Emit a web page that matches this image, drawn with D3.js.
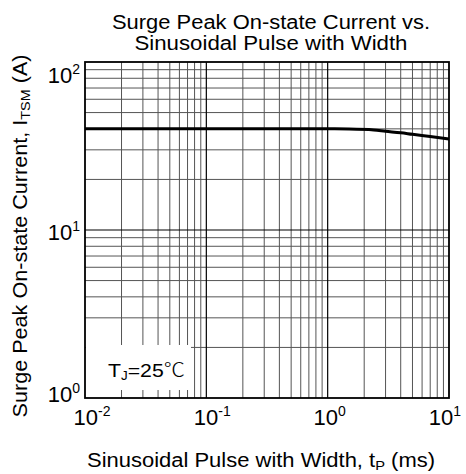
<!DOCTYPE html>
<html>
<head>
<meta charset="utf-8">
<script src="https://cdn.jsdelivr.net/npm/d3@7"></script>
<style>
  body { margin: 0; background: #fff; }
  svg text { font-family: "Liberation Sans", Arial, sans-serif; fill: #000; }
</style>
</head>
<body>
<svg id="chart" width="466" height="474"></svg>
<script>
// curve
const pulseWidth = [0.01, 0.1, 1, 1.5, 2.4, 3, 4, 5, 7, 10];
const surgeCurrent = [40, 40, 40, 39.9, 39.4, 38.7, 37.9, 37.1, 36.0, 34.8];

const xTickExp = [-2, -1, 0, 1];
const yTickExp = [0, 1, 2];

const titleLines = ["Surge Peak On-state Current vs.", "Sinusoidal Pulse with Width"];

const width = 466;
const height = 474;
const margin = { top: 62, right: 17, bottom: 76, left: 85 };
const innerWidth = width - margin.left - margin.right;
const innerHeight = height - margin.top - margin.bottom;

const svg = d3.select("#chart");

const xScale = d3.scaleLog().domain([0.01, 10]).range([margin.left, width - margin.right]);
const yScale = d3.scaleLog().domain([1, 100]).range([height - margin.bottom, margin.top]);

// grid lines, minor at 2..9 of every decade
const minorX = [];
[0.01, 0.1, 1].forEach((dec) => {
  for (let k = 2; k <= 9; k++) minorX.push(dec * k);
});
const minorY = [];
[1, 10].forEach((dec) => {
  for (let k = 2; k <= 9; k++) minorY.push(dec * k);
});

const grid = svg.append("g");

grid.selectAll(".gx")
  .data(minorX)
  .enter()
  .append("line")
  .attr("x1", (d) => xScale(d))
  .attr("x2", (d) => xScale(d))
  .attr("y1", margin.top)
  .attr("y2", height - margin.bottom)
  .attr("stroke", "#555")
  .attr("stroke-width", 1);

grid.selectAll(".gy")
  .data(minorY)
  .enter()
  .append("line")
  .attr("y1", (d) => yScale(d))
  .attr("y2", (d) => yScale(d))
  .attr("x1", margin.left)
  .attr("x2", width - margin.right)
  .attr("stroke", "#555")
  .attr("stroke-width", 1);

// decade lines
grid.selectAll(".mx")
  .data([0.1, 1])
  .enter()
  .append("line")
  .attr("x1", (d) => xScale(d))
  .attr("x2", (d) => xScale(d))
  .attr("y1", margin.top)
  .attr("y2", height - margin.bottom)
  .attr("stroke", "#000")
  .attr("stroke-width", 1.2);

grid.append("line")
  .attr("x1", margin.left)
  .attr("x2", width - margin.right)
  .attr("y1", yScale(10))
  .attr("y2", yScale(10))
  .attr("stroke", "#000")
  .attr("stroke-width", 1.2);

// label box
const boxBottom = height - margin.bottom - 8;
svg.append("rect")
  .attr("x", margin.left + 1)
  .attr("y", boxBottom - 45)
  .attr("width", 105)
  .attr("height", 45)
  .attr("fill", "#fff");

const tj = svg.append("text")
  .attr("x", margin.left + 23)
  .attr("y", height - margin.bottom - 21)
  .attr("textLength", 77)
  .attr("lengthAdjust", "spacingAndGlyphs")
  .style("font-size", "19px");
tj.append("tspan").text("T");
tj.append("tspan").attr("dy", 3).style("font-size", "12px").text("J");
tj.append("tspan").attr("dy", -3).text("=25");
tj.append("tspan")
  .style("font-family", "'Noto Sans CJK SC', sans-serif")
  .style("font-weight", 300)
  .text("℃");

// curve
const line = d3
  .line()
  .x((d, i) => xScale(pulseWidth[i]))
  .y((d) => yScale(d))
  .curve(d3.curveMonotoneX);

svg.append("path")
  .datum(surgeCurrent)
  .attr("d", line)
  .attr("fill", "none")
  .attr("stroke", "#000")
  .attr("stroke-width", 3);

// frame
svg.append("rect")
  .attr("x", margin.left)
  .attr("y", margin.top)
  .attr("width", innerWidth)
  .attr("height", innerHeight)
  .attr("fill", "none")
  .attr("stroke", "#000")
  .attr("stroke-width", 1.8);

// tick labels (the reference centres them a little unevenly)
const xLabelNudge = [7, 6, 2, -4];
const xLabels = svg.selectAll(".xl")
  .data(xTickExp)
  .enter()
  .append("text")
  .attr("x", (d, i) => xScale(Math.pow(10, d)) + xLabelNudge[i])
  .attr("y", height - margin.bottom + 27)
  .attr("text-anchor", "middle")
  .style("font-size", "22px");
xLabels.append("tspan").text("10");
xLabels.append("tspan").attr("dy", -9).style("font-size", "14px").text((d) => d);

// the reference sets 10^2 lower than its gridline, 10^0 a little higher
const yLabelNudge = [4, 10, 21];
const yLabels = svg.selectAll(".yl")
  .data(yTickExp)
  .enter()
  .append("text")
  .attr("x", margin.left - 5)
  .attr("y", (d, i) => yScale(Math.pow(10, d)) + yLabelNudge[i])
  .attr("text-anchor", "end")
  .style("font-size", "22px");
yLabels.append("tspan").text("10");
yLabels.append("tspan").attr("dy", -9).style("font-size", "14px").text((d) => d);

// title
svg.selectAll(".title")
  .data(titleLines)
  .enter()
  .append("text")
  .attr("x", 271)
  .attr("y", (d, i) => 29 + i * 21)
  .attr("text-anchor", "middle")
  .attr("textLength", (d, i) => [318, 273][i])
  .attr("lengthAdjust", "spacingAndGlyphs")
  .style("font-size", "19.5px")
  .text((d) => d);

// x axis title
const xt = svg.append("text")
  .attr("x", 261)
  .attr("y", 467)
  .attr("text-anchor", "middle")
  .attr("textLength", 348)
  .attr("lengthAdjust", "spacingAndGlyphs")
  .style("font-size", "19.5px");
xt.append("tspan").text("Sinusoidal Pulse with Width, t");
xt.append("tspan").attr("dy", 3).style("font-size", "13px").text("P");
xt.append("tspan").attr("dy", -3).text(" (ms)");

// y axis title
const yt = svg.append("text")
  .attr("x", 27)
  .attr("y", 236)
  .attr("transform", "rotate(-90,27,236)")
  .attr("text-anchor", "middle")
  .attr("textLength", 363)
  .attr("lengthAdjust", "spacingAndGlyphs")
  .style("font-size", "19.5px");
yt.append("tspan").text("Surge Peak On-state Current, I");
yt.append("tspan").attr("dy", 3).style("font-size", "13px").text("TSM");
yt.append("tspan").attr("dy", -3).text(" (A)");
</script>
</body>
</html>
